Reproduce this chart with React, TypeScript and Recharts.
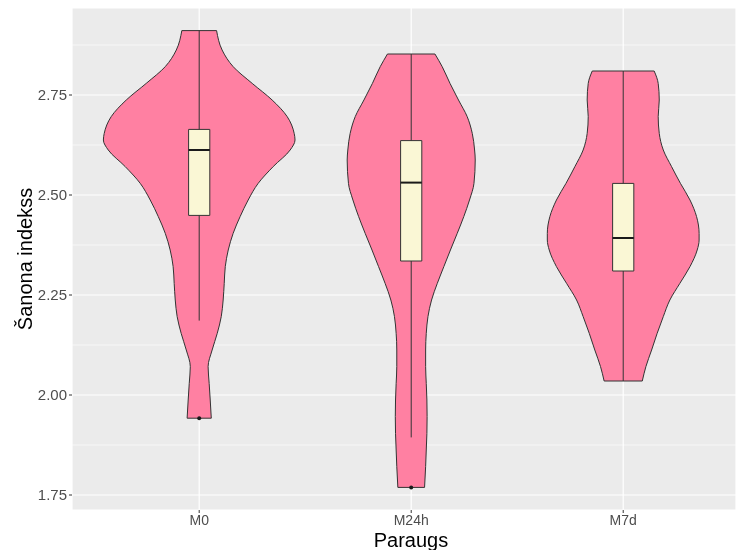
import React from "react";
import {
  ComposedChart,
  Area,
  XAxis,
  YAxis,
  CartesianGrid,
  ReferenceArea,
  ReferenceLine,
  ReferenceDot,
} from "recharts";

const categories = ["M0", "M24h", "M7d"];

// violin outlines: [value, half width in category units]
const m0Violin = [
  [1.942, 0.057], [1.9875, 0.052], [2.029, 0.047], [2.071, 0.042],
  [2.1125, 0.061], [2.154, 0.085], [2.196, 0.104], [2.2375, 0.113],
  [2.279, 0.118], [2.321, 0.123], [2.3625, 0.137], [2.404, 0.16],
  [2.446, 0.193], [2.4875, 0.231], [2.529, 0.278], [2.571, 0.349],
  [2.6125, 0.429], [2.6375, 0.452], [2.654, 0.448], [2.696, 0.415],
  [2.7375, 0.344], [2.779, 0.25], [2.821, 0.16], [2.8625, 0.108],
  [2.911, 0.082],
];
const m24hViolin = [
  [1.769, 0.063], [1.821, 0.068], [1.8625, 0.071], [1.904, 0.074],
  [1.946, 0.075], [1.9875, 0.074], [2.029, 0.071], [2.071, 0.068],
  [2.1125, 0.068], [2.154, 0.071], [2.196, 0.079], [2.2375, 0.096],
  [2.279, 0.123], [2.321, 0.154], [2.3625, 0.185], [2.404, 0.217],
  [2.446, 0.248], [2.4875, 0.275], [2.529, 0.296], [2.5875, 0.302],
  [2.6125, 0.299], [2.654, 0.288], [2.696, 0.264], [2.7375, 0.223],
  [2.779, 0.183], [2.821, 0.146], [2.8525, 0.112],
];
const m7dViolin = [
  [2.035, 0.09], [2.071, 0.107], [2.1125, 0.134], [2.154, 0.16],
  [2.196, 0.189], [2.2375, 0.22], [2.279, 0.267], [2.321, 0.315],
  [2.3625, 0.349], [2.3875, 0.358], [2.404, 0.358], [2.446, 0.346],
  [2.4875, 0.315], [2.529, 0.27], [2.571, 0.228], [2.6125, 0.189],
  [2.654, 0.17], [2.696, 0.165], [2.7375, 0.17], [2.779, 0.165],
  [2.81, 0.146],
];

// box stats: [lower whisker, q1, median, q3, upper whisker]
const boxStats = [
  [2.186, 2.449, 2.6125, 2.664, 2.911],
  [1.894, 2.335, 2.531, 2.636, 2.8525],
  [2.035, 2.31, 2.3925, 2.529, 2.81],
];
const outliers = [
  [1, 1.942],
  [2, 1.769],
];

const yTicks = [1.75, 2.0, 2.25, 2.5, 2.75];
const yMinor = [1.875, 2.125, 2.375, 2.625, 2.875];

const violins = [m0Violin, m24hViolin, m7dViolin];
const keys = ["v0", "v1", "v2"];

const rows: { [key: string]: any }[] = [];
violins.forEach((v, i) => {
  v.forEach(([y, hw]) => {
    rows.push({ y, [keys[i]]: [i + 1 - hw, i + 1 + hw] });
  });
});
rows.sort((a, b) => a.y - b.y);

const pink = "#FF80A2";
const outline = "#333333";
const boxFill = "#FAF7D5";
const boxHalf = 0.05;

export default function App() {
  return (
    <div
      style={{
        position: "fixed",
        left: 0,
        top: 0,
        fontFamily: "'Liberation Sans', Arial, sans-serif",
      }}
    >
      <ComposedChart
        width={736}
        height={550}
        layout="vertical"
        data={rows}
        margin={{ top: 8, right: 0, bottom: 0, left: 0 }}
      >
        <CartesianGrid
          fill="#EBEBEB"
          fillOpacity={1}
          stroke="#FFFFFF"
          strokeWidth={0.6}
          vertical={false}
          horizontalValues={yMinor}
        />
        <CartesianGrid stroke="#FFFFFF" strokeWidth={1.2} />
        <XAxis
          type="number"
          domain={[0.4, 3.532]}
          allowDataOverflow
          ticks={[1, 2, 3]}
          tickFormatter={(v: number) => categories[v - 1]}
          height={40}
          axisLine={false}
          tickSize={3}
          tickMargin={2}
          tickLine={{ stroke: "#333333" }}
          tick={{ fill: "#4D4D4D", fontSize: 14 }}
          label={{
            value: "Paraugs",
            position: "insideBottom",
            offset: 3,
            dx: 7,
            style: { fill: "#000", fontSize: 20 },
          }}
        />
        <YAxis
          type="number"
          dataKey="y"
          reversed
          domain={[1.7125, 2.9675]}
          allowDataOverflow
          ticks={yTicks}
          tickFormatter={(v: number) => v.toFixed(2)}
          width={72}
          axisLine={false}
          tickSize={3}
          tickMargin={2}
          tickLine={{ stroke: "#333333" }}
          tick={{ fill: "#4D4D4D", fontSize: 15 }}
          label={{
            value: "Šanona indekss",
            angle: -90,
            position: "insideLeft",
            offset: 25,
            style: { fill: "#000", fontSize: 20, textAnchor: "middle" },
          }}
        />
        {keys.map((k) => (
          <Area
            key={k}
            dataKey={(d: any) => d[k] ?? [null, null]}
            fill={pink}
            fillOpacity={1}
            stroke={outline}
            strokeWidth={1}
            connectNulls
            type="monotoneY"
            dot={false}
            activeDot={false}
            isAnimationActive={false}
          />
        ))}
        {violins.map((v, i) => {
          const first = v[0];
          const last = v[v.length - 1];
          return (
            <React.Fragment key={"ends" + i}>
              <ReferenceLine
                segment={[
                  { x: i + 1 - first[1], y: first[0] },
                  { x: i + 1 + first[1], y: first[0] },
                ]}
                stroke={outline}
                strokeWidth={1}
              />
              <ReferenceLine
                segment={[
                  { x: i + 1 - last[1], y: last[0] },
                  { x: i + 1 + last[1], y: last[0] },
                ]}
                stroke={outline}
                strokeWidth={1}
              />
            </React.Fragment>
          );
        })}
        {boxStats.map(([lo, q1, med, q3, hi], i) => (
          <React.Fragment key={"box" + i}>
            <ReferenceLine
              segment={[
                { x: i + 1, y: lo },
                { x: i + 1, y: q1 },
              ]}
              stroke={outline}
              strokeWidth={1}
            />
            <ReferenceLine
              segment={[
                { x: i + 1, y: q3 },
                { x: i + 1, y: hi },
              ]}
              stroke={outline}
              strokeWidth={1}
            />
            <ReferenceArea
              x1={i + 1 - boxHalf}
              x2={i + 1 + boxHalf}
              y1={q1}
              y2={q3}
              fill={boxFill}
              fillOpacity={1}
              stroke={outline}
              strokeWidth={1}
            />
            <ReferenceLine
              segment={[
                { x: i + 1 - boxHalf, y: med },
                { x: i + 1 + boxHalf, y: med },
              ]}
              stroke="#1a1a1a"
              strokeWidth={2}
            />
          </React.Fragment>
        ))}
        {outliers.map(([c, v], i) => (
          <ReferenceDot
            key={"out" + i}
            x={c}
            y={v}
            r={2}
            fill="#1a1a1a"
            stroke="none"
          />
        ))}
      </ComposedChart>
    </div>
  );
}
